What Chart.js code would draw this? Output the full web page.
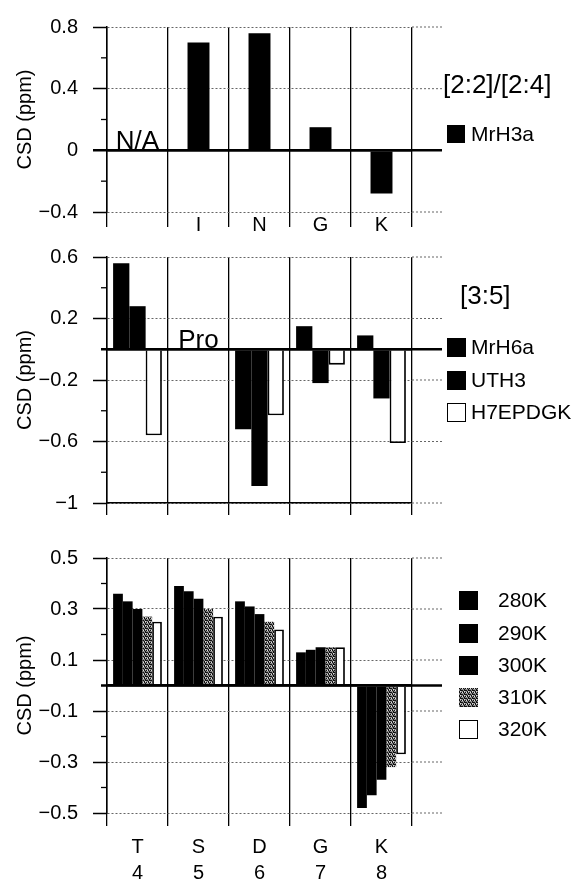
<!DOCTYPE html>
<html><head><meta charset="utf-8">
<script src="https://cdn.jsdelivr.net/npm/chart.js@4/dist/chart.umd.min.js"></script>
<style>
html,body{margin:0;padding:0;background:#fff;}
body{width:577px;height:884px;position:relative;overflow:hidden;font-family:'Liberation Sans',Arial,Helvetica,sans-serif;}
canvas{position:absolute;left:0;}
.lg{position:absolute;white-space:nowrap;color:#000;}
.sw{position:absolute;box-sizing:border-box;image-rendering:pixelated;}
</style></head><body>
<canvas id="c1" width="577" height="240" style="top:0px"></canvas>
<canvas id="c2" width="577" height="300" style="top:230px"></canvas>
<canvas id="c3" width="577" height="354" style="top:530px"></canvas>
<div id="legends"></div>
<script>
// ---------- DATA ----------
// Panel 1: [2:2]/[2:4]
const topCategories = ['', 'I', 'N', 'G', 'K'];
const topTitle = '[2:2]/[2:4]';
const mrH3a = [null, 0.70, 0.76, 0.15, -0.28];
const topTickLabels = [-0.4, 0, 0.4, 0.8];
const topNote = 'N/A';

// Panel 2: [3:5]
const midCategories = ['T', 'S', 'D', 'G', 'K'];
const midTitle = '[3:5]';
const mrH6a = [0.56, null, -0.52, 0.15, 0.09];
const uth3 = [0.28, null, -0.89, -0.22, -0.32];
const h7epdgk = [-0.56, null, -0.43, -0.10, -0.61];
const midTickLabels = [-1, -0.6, -0.2, 0.2, 0.6];
const midNote = 'Pro';

// Panel 3: temperature series
const residues = ['T', 'S', 'D', 'G', 'K'];
const residueNumbers = ['4', '5', '6', '7', '8'];
const k280 = [0.36, 0.39, 0.33, 0.13, -0.48];
const k290 = [0.33, 0.37, 0.31, 0.14, -0.43];
const k300 = [0.30, 0.34, 0.28, 0.15, -0.37];
const k310 = [0.27, 0.30, 0.25, 0.15, -0.32];
const k320 = [0.25, 0.27, 0.22, 0.15, -0.27];
const botTickLabels = [-0.5, -0.3, -0.1, 0.1, 0.3, 0.5];
const axisTitle = 'CSD (ppm)';

// ---------- STYLE ----------
const FONT = "'Liberation Sans', Arial, Helvetica, sans-serif";
Chart.defaults.font.family = FONT;
Chart.defaults.color = '#000';

function makeStipple() {
  const p = document.createElement('canvas');
  p.width = 4; p.height = 4;
  const g = p.getContext('2d');
  g.fillStyle = '#8a8a8a'; g.fillRect(0, 0, 4, 4);
  g.fillStyle = '#111111';
  [[0,0],[2,0],[1,1],[3,2],[0,3],[2,2],[1,2]].forEach(([x,y]) => g.fillRect(x, y, 1, 1));
  g.fillStyle = '#e0e0e0';
  [[1,3],[3,0]].forEach(([x,y]) => g.fillRect(x, y, 1, 1));
  return p;
}
const stippleCanvas = makeStipple();
const stipple = document.getElementById('c3').getContext('2d').createPattern(stippleCanvas, 'repeat');

const near = (a, b) => Math.abs(a - b) < 1e-6;
const fmt = v => (Math.abs(v) < 1e-9 ? '0' : String(Math.round(v * 10) / 10)).replace('-', '\u2212');

const axisExtras = {
  id: 'axisExtras',
  afterDraw(chart, args, opts) {
    const y = chart.scales.y, a = chart.chartArea, c = chart.ctx;
    c.save();
    const line = (x1, y1, x2, y2) => { c.beginPath(); c.moveTo(x1, y1); c.lineTo(x2, y2); c.stroke(); };
    y.ticks.forEach(t => {
      const py = y.getPixelForValue(t.value);
      const zero = Math.abs(t.value) < 1e-9;
      const major = opts.tickLabels.some(l => near(l, t.value));
      if (!major) {
        c.setLineDash([]); c.strokeStyle = '#000'; c.lineWidth = zero ? 2.5 : 1.3;
        line(a.left - 6, py, a.left, py);
      }
      if (zero) {
        c.setLineDash([]); c.strokeStyle = '#000'; c.lineWidth = 2.5;
        line(a.left, py, a.right + 30, py);
      } else if (major) {
        c.setLineDash([2, 2]); c.strokeStyle = '#666'; c.lineWidth = 1;
        line(a.right, py, a.right + 30, py);
      }
    });
    if (opts.note) {
      const x = chart.scales.x;
      c.setLineDash([]);
      c.fillStyle = '#000';
      c.font = '26px ' + FONT;
      c.textAlign = 'center';
      c.textBaseline = 'alphabetic';
      c.fillText(opts.note.text, x.getPixelForValue(opts.note.index), y.getPixelForValue(0) - 1.5);
    }
    c.restore();
  }
};

function makeChart(id, cfg) {
  const tl = cfg.tickLabels;
  const min = tl[0], max = tl[tl.length - 1];
  const isMajor = v => tl.some(l => near(l, v));
  return new Chart(document.getElementById(id), {
    type: 'bar',
    data: { labels: cfg.labels, datasets: cfg.datasets },
    plugins: [axisExtras],
    options: {
      responsive: false, animation: false, devicePixelRatio: 1,
      layout: { padding: { top: cfg.padTop, left: 0, right: 165, bottom: 0 } },
      plugins: {
        legend: { display: false }, tooltip: { enabled: false },
        axisExtras: { tickLabels: tl, note: cfg.note }
      },
      scales: {
        x: {
          afterFit(s) { s.height = cfg.xHeight; },
          grid: { offset: true, color: '#000', lineWidth: 1.3, drawTicks: true, tickLength: cfg.tickLen, tickColor: '#000', tickWidth: 1.3 },
          border: { display: cfg.xBorder, color: '#000', width: 1.5 },
          ticks: { display: cfg.showX, autoSkip: false, maxRotation: 0, padding: cfg.xPad,
                   font: { size: 20, lineHeight: cfg.xLineHeight }, color: '#000' }
        },
        y: {
          min: min, max: max,
          afterFit(s) { s.width = 107; },
          afterBuildTicks(s) {
            const n = Math.round((max - min) / cfg.minorStep);
            const t = [];
            for (let i = 0; i <= n; i++) t.push({ value: +(min + i * cfg.minorStep).toFixed(6) });
            s.ticks = t;
          },
          ticks: { callback: v => isMajor(v) ? fmt(v) : '', font: { size: 20 }, color: '#000', padding: 15, autoSkip: false },
          grid: {
            drawTicks: true, tickLength: 14,
            color: ctx => { const v = ctx.tick.value; if (Math.abs(v) < 1e-9) return '#000'; return isMajor(v) ? '#666' : 'rgba(0,0,0,0)'; },
            lineWidth: ctx => Math.abs(ctx.tick.value) < 1e-9 ? 2.5 : 1,
            tickColor: ctx => isMajor(ctx.tick.value) ? '#000' : 'rgba(0,0,0,0)',
            tickWidth: ctx => Math.abs(ctx.tick.value) < 1e-9 ? 2.5 : 1.5
          },
          border: { display: true, color: '#000', width: 1.5,
                    dash: ctx => (ctx.tick && Math.abs(ctx.tick.value) > 1e-9) ? [2, 2] : [] },
          title: { display: true, text: axisTitle, font: { size: 20 }, color: '#000', padding: { top: 13, bottom: 0 } }
        }
      }
    }
  });
}

const black = '#000', white = '#fff';
const topSeries = [{ label: 'MrH3a', data: mrH3a, fill: black }];
const midSeries = [
  { label: 'MrH6a', data: mrH6a, fill: black },
  { label: 'UTH3', data: uth3, fill: black },
  { label: 'H7EPDGK', data: h7epdgk, fill: white }
];
const botSeries = [
  { label: '280K', data: k280, fill: black },
  { label: '290K', data: k290, fill: black },
  { label: '300K', data: k300, fill: black },
  { label: '310K', data: k310, fill: 'stipple' },
  { label: '320K', data: k320, fill: white }
];
const toDatasets = (series, barPct) => series.map(s => ({
  label: s.label, data: s.data,
  backgroundColor: s.fill === 'stipple' ? stipple : s.fill,
  borderColor: '#000', borderWidth: s.fill === white ? 1.8 : 0,
  barPercentage: barPct, categoryPercentage: 0.8
}));

makeChart('c1', { labels: topCategories, datasets: toDatasets(topSeries, 0.45), tickLabels: topTickLabels,
  minorStep: 0.2, padTop: 20, xHeight: 28, tickLen: 15, xPad: -14, xLineHeight: 1.2, showX: true, xBorder: false,
  note: { index: 0, text: topNote } });
makeChart('c2', { labels: midCategories, datasets: toDatasets(midSeries, 1), tickLabels: midTickLabels,
  minorStep: 0.2, padTop: 20, xHeight: 24, tickLen: 12, xPad: 0, xLineHeight: 1.2, showX: false, xBorder: true,
  note: { index: 1, text: midNote } });
makeChart('c3', { labels: residues.map((r, i) => [r, residueNumbers[i]]), datasets: toDatasets(botSeries, 1), tickLabels: botTickLabels,
  minorStep: 0.1, padTop: 28, xHeight: 71, tickLen: 13, xPad: 8, xLineHeight: 1.3, showX: true, xBorder: false,
  note: null });

// ---------- LEGENDS (HTML) ----------
const L = document.getElementById('legends');
function addText(text, left, top, size, lh) {
  const d = document.createElement('div');
  d.className = 'lg';
  d.textContent = text;
  d.style.left = left + 'px';
  d.style.fontSize = size + 'px';
  d.style.lineHeight = lh + 'px';
  d.style.top = top + 'px';
  L.appendChild(d);
}
function addSwatch(fill, left, centerY, size) {
  const d = document.createElement('div');
  d.className = 'sw';
  d.style.left = left + 'px';
  d.style.top = (centerY - size / 2) + 'px';
  d.style.width = size + 'px';
  d.style.height = size + 'px';
  if (fill === 'stipple') d.style.backgroundImage = 'url(' + stippleCanvas.toDataURL() + ')';
  else d.style.background = fill;
  if (fill === white) d.style.border = '1.5px solid #000';
  L.appendChild(d);
}
addText(topTitle, 443, 69, 26, 30);
topSeries.forEach((s) => { addSwatch(s.fill, 447, 134, 18); addText(s.label, 471, 134 - 12, 21, 24); });
addText(midTitle, 460, 280, 26, 30);
[347, 380, 412].forEach((cy, i) => { const s = midSeries[i]; addSwatch(s.fill, 447, cy, 19); addText(s.label, 471, cy - 12, 21, 24); });
[600, 633, 665, 697, 729].forEach((cy, i) => { const s = botSeries[i]; addSwatch(s.fill, 459, cy, 19); addText(s.label, 498, cy - 12, 21, 24); });
</script>
</body></html>
